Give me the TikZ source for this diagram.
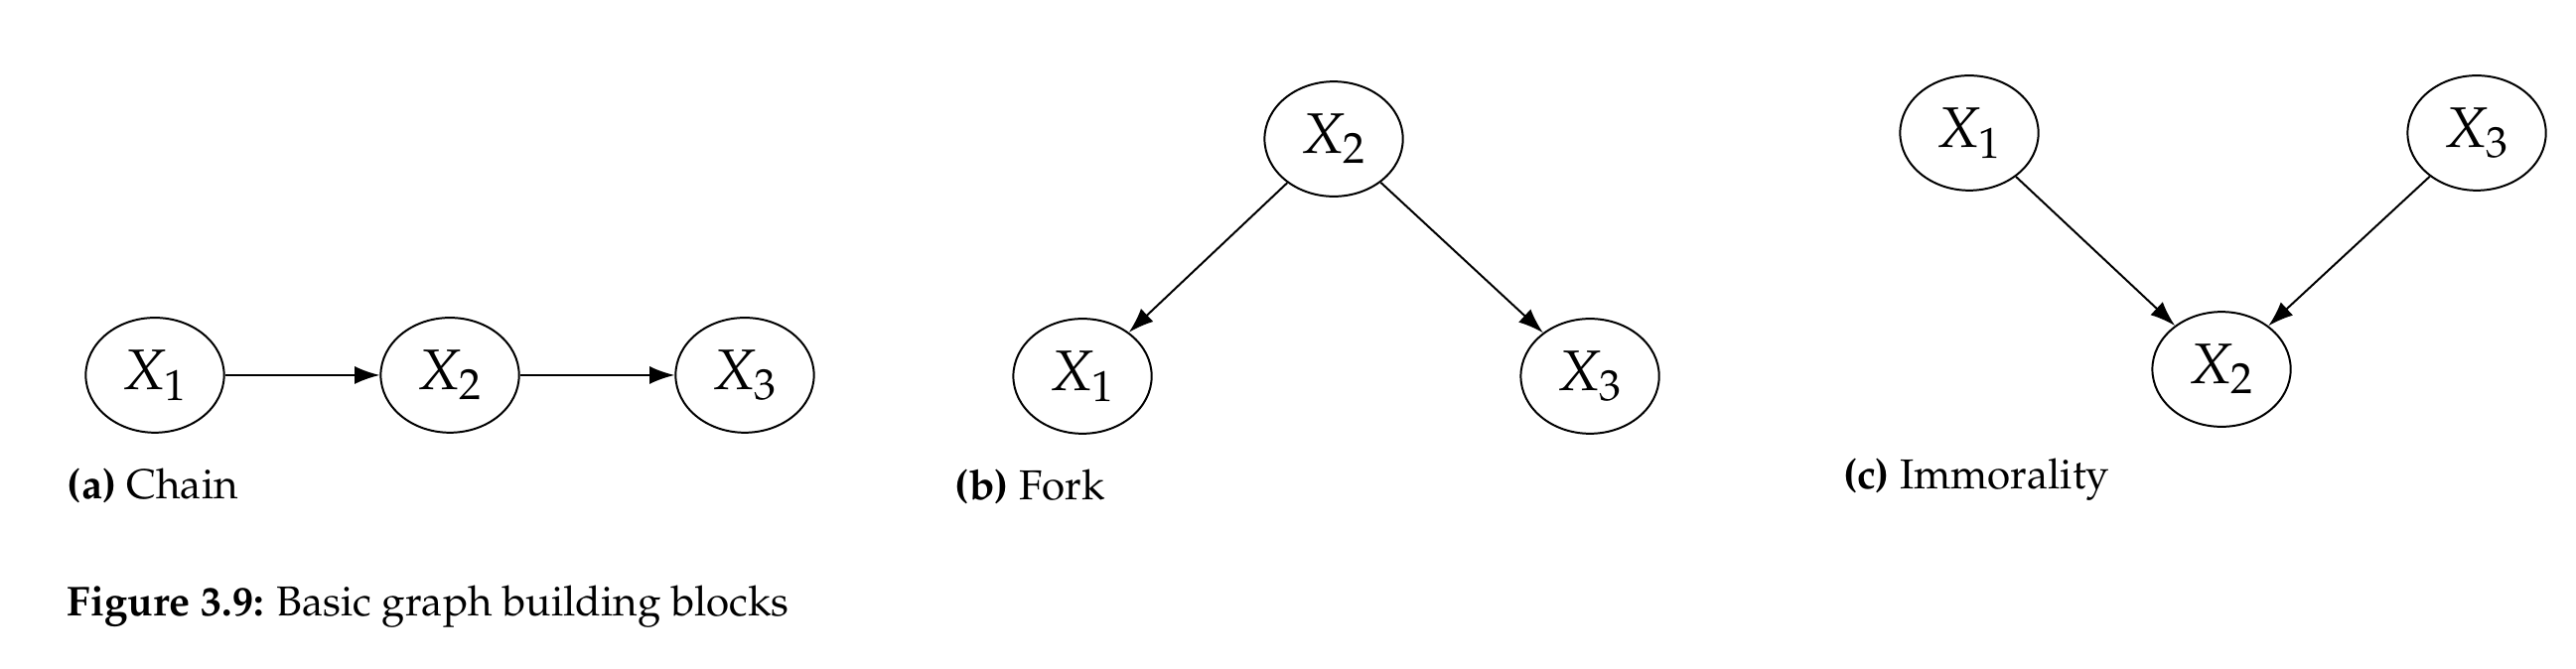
\documentclass[tikz,border=0pt]{standalone}
\usepackage[T1]{fontenc}
\usepackage{mathpazo}
\usetikzlibrary{arrows.meta, shapes.geometric}

\begin{document}
\begin{tikzpicture}[line width=0.55pt, every node/.style={ellipse,
                                  draw,
                                  inner sep=0pt,
                                  minimum width=1.36cm,
                                  minimum height=1.13cm,
                                  font=\fontsize{16}{19}\selectfont},
                    lbl/.style={draw=none, rectangle, minimum width=0pt,
                                  minimum height=0pt, anchor=base west,
                                  font=\fontsize{11.7}{14}\selectfont}]
                      \useasboundingbox (0, 0) rectangle (25.325, 6.58);

                      % (a) chain
                      \node (a1) at (1.523, 2.890) {$X_1$};
                      \node (a2) at (4.423, 2.890) {$X_2$};
                      \node (a3) at (7.322, 2.890) {$X_3$};

                      % (b) fork
                      \node (b2) at (13.112, 5.213) {$X_2$};
                      \node (b1) at (10.642, 2.880) {$X_1$};
                      \node (b3) at (15.631, 2.880) {$X_3$};

                      % (c) immorality
                      \node (c1) at (19.360, 5.272) {$X_1$};
                      \node (c3) at (24.349, 5.272) {$X_3$};
                      \node (c2) at (21.840, 2.948) {$X_2$};

                      \node[lbl] at (0.654, 1.679) {\textbf{(a)} Chain};
                      \node[lbl] at (9.382, 1.669) {\textbf{(b)} Fork};
                      \node[lbl] at (18.110, 1.767) {\textbf{(c)} Immorality};
                      \node[lbl] at (0.654, 0.527) {\textbf{Figure 3.9:} Basic graph building blocks};

                      \foreach \i/\j in {a1/a2, a2/a3, b2/b1, b2/b3, c1/c2, c3/c2} {
                              \draw[-{Latex[length=7pt, width=5pt]}] (\i) -- (\j);
                          }
                  \end{tikzpicture}
\end{document}
